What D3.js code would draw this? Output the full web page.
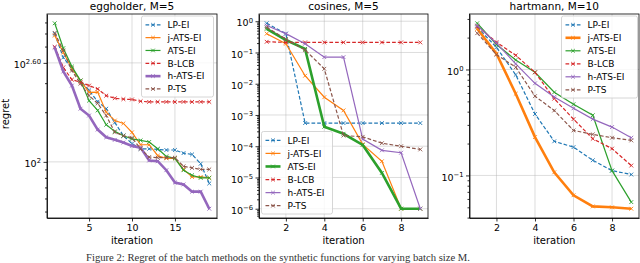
<!DOCTYPE html>
<html>
<head>
<meta charset="utf-8">
<script src="https://cdn.jsdelivr.net/npm/d3@7"></script>
<style>
  body { margin: 0; background: #fff; }
  text { font-family: "DejaVu Sans", sans-serif; }
</style>
</head>
<body>
<div id="fig"></div>
<script>
// series (same order in every panel)
const names = ['LP-EI', 'j-ATS-EI', 'ATS-EI', 'B-LCB', 'h-ATS-EI', 'P-TS'];

// eggholder, M=5
const eggIter = [1, 2, 3, 4, 5, 6, 7, 8, 9, 10, 11, 12, 13, 14, 15, 16, 17, 18, 19];
const eggLP = [597, 429, 368, 311, 271, 232, 210, 173, 144, 129, 120, 120, 119, 118, 118, 113, 111, 97.5, 74];
const eggJATS = [583, 460, 368, 311, 264, 265, 200, 178, 171, 151, 127, 127, 109, 105, 105, 90, 81, 81, 80];
const eggATS = [692, 489, 378, 311, 235, 205, 168, 153, 144, 138, 135, 132, 120, 108, 105, 89, 83, 80, 80];
const eggBLCB = [498, 374, 315, 304, 290, 277, 252, 243, 240, 239, 233, 231, 231, 231, 231, 231, 231, 231, 231];
const eggHATS = [493, 353, 290, 210, 191, 157, 141, 136, 131, 125, 122, 102, 101, 89, 75, 73, 66, 66, 52];
const eggPTS = [605, 473, 357, 298, 252, 226, 191, 151, 144, 140, 120, 107, 106, 106, 106, 94, 92, 90, 90];
const eggXTicks = [5, 10, 15];
const eggYTicks = [100, Math.pow(10, 2.6)];
const eggYLabels = [['10', '2'], ['10', '2.60']];
const eggYMinor = [50, 60, 70, 80, 90, 200, 300, 500, 600, 700];

// cosines, M=5
const cosIter = [1, 2, 3, 4, 5, 6, 7, 8, 9];
const cosLP = [0.86, 0.4, 5.5e-4, 5.5e-4, 5.5e-4, 5.5e-4, 5.5e-4, 5.5e-4, 5.5e-4];
const cosJATS = [0.40, 0.19, 0.018, 3.7e-3, 1.4e-3, 1.15e-4, 3.3e-5, 1e-6, 1e-6];
const cosATS = [0.57, 0.25, 0.13, 4.2e-4, 2.5e-4, 1.1e-4, 1.4e-5, 1e-6, 1e-6];
const cosBLCB = [0.22, 0.21, 0.21, 0.21, 0.21, 0.21, 0.21, 0.21, 0.21];
const cosHATS = [0.73, 0.40, 0.19, 0.071, 0.071, 1.7e-4, 7.4e-5, 6.2e-5, 1e-6];
const cosPTS = [0.64, 0.27, 0.12, 0.030, 2.2e-4, 2e-4, 1.25e-4, 1e-4, 7.9e-5];
const cosXTicks = [2, 4, 6, 8];
const cosYTicks = [1, 1e-1, 1e-2, 1e-3, 1e-4, 1e-5, 1e-6];
const cosYLabels = [['10', '0'], ['10', '\u22121'], ['10', '\u22122'], ['10', '\u22123'], ['10', '\u22124'], ['10', '\u22125'], ['10', '\u22126']];
const cosYMinor = [];
for (let e = -7; e <= 0; e++) for (let k = 2; k <= 9; k++) cosYMinor.push(k * Math.pow(10, e));

// hartmann, M=10
const hartIter = [1, 2, 3, 4, 5, 6, 7, 8, 9];
const hartLP = [2.5, 1.62, 0.89, 0.38, 0.21, 0.185, 0.139, 0.111, 0.102];
const hartJATS = [2.42, 1.41, 0.59, 0.23, 0.107, 0.065, 0.051, 0.050, 0.0485];
const hartATS = [2.73, 1.72, 1.23, 0.94, 0.61, 0.47, 0.37, 0.111, 0.056];
const hartBLCB = [2.55, 1.81, 1.36, 0.94, 0.53, 0.34, 0.222, 0.179, 0.124];
const hartHATS = [2.6, 1.77, 1.13, 0.74, 0.55, 0.43, 0.34, 0.286, 0.227];
const hartPTS = [2.2, 1.38, 1.05, 0.56, 0.41, 0.266, 0.244, 0.227, 0.214];
const hartXTicks = [2, 4, 6, 8];
const hartYTicks = [1, 0.1];
const hartYLabels = [['10', '0'], ['10', '\u22121']];
const hartYMinor = [0.04, 0.05, 0.06, 0.07, 0.08, 0.09, 0.2, 0.3, 0.4, 0.5, 0.6, 0.7, 0.8, 0.9, 2, 3];

const caption = 'Figure 2: Regret of the batch methods on the synthetic functions for varying batch size M.';

// styles
const colors = ['#1f77b4', '#ff7f0e', '#2ca02c', '#d62728', '#9467bd', '#8c564b'];
const dashed = [true, false, false, true, false, true];

const W = 640, H = 263;
const axTop = 14, axBottom = 218;

const svg = d3.select('#fig').append('svg').attr('width', W).attr('height', H);

const panels = [
  { title: 'eggholder, M=5', iters: eggIter, values: [eggLP, eggJATS, eggATS, eggBLCB, eggHATS, eggPTS],
    thick: 4, left: 47, right: 217, xTicks: eggXTicks, yTicks: eggYTicks, yLabels: eggYLabels, yMinor: eggYMinor,
    legend: { x: 141.5, y: 16, w: 72, h: 81 }, ylabel: 'regret' },
  { title: 'cosines, M=5', iters: cosIter, values: [cosLP, cosJATS, cosATS, cosBLCB, cosHATS, cosPTS],
    thick: 2, left: 259, right: 428, xTicks: cosXTicks, yTicks: cosYTicks, yLabels: cosYLabels, yMinor: cosYMinor,
    legend: { x: 261.5, y: 131.5, w: 71, h: 82.5 } },
  { title: 'hartmann, M=10', iters: hartIter, values: [hartLP, hartJATS, hartATS, hartBLCB, hartHATS, hartPTS],
    thick: 1, left: 469.5, right: 639, xTicks: hartXTicks, yTicks: hartYTicks, yLabels: hartYLabels, yMinor: hartYMinor,
    legend: { x: 561.5, y: 16, w: 76, h: 82 } }
];

const drawPanel = (p) => {
  const g = svg.append('g');
  const xmin = d3.min(p.iters), xmax = d3.max(p.iters);
  const xm = (xmax - xmin) * 0.05;
  const x = d3.scaleLinear().domain([xmin - xm, xmax + xm]).range([p.left, p.right]);

  const all = p.values.flat();
  const lmin = Math.log10(d3.min(all)), lmax = Math.log10(d3.max(all));
  const lm = (lmax - lmin) * 0.05;
  const y = d3.scaleLog().domain([Math.pow(10, lmin - lm), Math.pow(10, lmax + lm)]).range([axBottom, axTop]);

  // grid
  g.append('g').selectAll('line').data(p.xTicks).join('line')
    .attr('x1', (d) => x(d)).attr('x2', (d) => x(d)).attr('y1', axTop).attr('y2', axBottom)
    .attr('stroke', '#b0b0b0').attr('stroke-opacity', 0.55).attr('stroke-width', 0.8);
  g.append('g').selectAll('line').data(p.yTicks).join('line')
    .attr('y1', (d) => y(d)).attr('y2', (d) => y(d)).attr('x1', p.left).attr('x2', p.right)
    .attr('stroke', '#b0b0b0').attr('stroke-opacity', 0.55).attr('stroke-width', 0.8);

  // lines
  const line = d3.line().x((d) => x(d.i)).y((d) => y(d.v));
  p.values.forEach((vals, s) => {
    const data = p.iters.map((it, j) => ({ i: it, v: vals[j] }));
    const lw = s === p.thick ? 2.6 : 1.2;
    g.append('path').datum(data).attr('d', line)
      .attr('fill', 'none').attr('stroke', colors[s]).attr('stroke-width', lw)
      .attr('stroke-dasharray', dashed[s] ? '3.7,2' : null);
    g.append('g').selectAll('path').data(data).join('path')
      .attr('d', 'M-1.9,-1.9L1.9,1.9M-1.9,1.9L1.9,-1.9')
      .attr('transform', (d) => `translate(${x(d.i)},${y(d.v)})`)
      .attr('stroke', colors[s]).attr('stroke-width', 0.9).attr('fill', 'none');
  });

  // axes
  const ax = g.append('g').attr('transform', `translate(0,${axBottom})`)
    .call(d3.axisBottom(x).tickValues(p.xTicks).tickSize(3.5).tickSizeOuter(0).tickPadding(2.5));
  ax.selectAll('text').attr('font-size', 9.5).attr('fill', '#000');

  const dom = y.domain();
  const minor = p.yMinor.filter((v) => v >= dom[0] && v <= dom[1]);
  g.append('g').attr('transform', `translate(${p.left},0)`)
    .call(d3.axisLeft(y).tickValues(minor).tickSize(2).tickSizeOuter(0).tickFormat(''))
    .select('.domain').remove();

  const ay = g.append('g').attr('transform', `translate(${p.left},0)`)
    .call(d3.axisLeft(y).tickValues(p.yTicks).tickSize(3.5).tickSizeOuter(0).tickPadding(2.5).tickFormat(''));
  ay.selectAll('.tick text').each(function (d, i) {
    const t = d3.select(this).attr('font-size', 9.5).attr('fill', '#000').attr('dy', '0.5em');
    t.text(p.yLabels[i][0]);
    t.append('tspan').attr('dy', '-0.55em').attr('font-size', 6.8).text(p.yLabels[i][1]);
  });
  g.selectAll('.domain').attr('stroke', '#000').attr('stroke-width', 0.8);
  g.selectAll('.tick line').attr('stroke', '#000').attr('stroke-width', 0.8);

  // frame
  g.append('rect').attr('x', p.left).attr('y', axTop).attr('width', p.right - p.left).attr('height', axBottom - axTop)
    .attr('fill', 'none').attr('stroke', '#000').attr('stroke-width', 0.8);

  // labels
  g.append('text').attr('x', (p.left + p.right) / 2).attr('y', 9.5).attr('text-anchor', 'middle')
    .attr('font-size', 10.5).text(p.title);
  g.append('text').attr('x', (p.left + p.right) / 2).attr('y', 244).attr('text-anchor', 'middle')
    .attr('font-size', 10).text('iteration');
  if (p.ylabel) {
    g.append('text').attr('transform', 'translate(8.5,114) rotate(-90)').attr('text-anchor', 'middle')
      .attr('font-size', 10).text(p.ylabel);
  }

  // legend
  const L = p.legend;
  const lg = g.append('g');
  lg.append('rect').attr('x', L.x).attr('y', L.y).attr('width', L.w).attr('height', L.h).attr('rx', 2)
    .attr('fill', '#fff').attr('fill-opacity', 0.8).attr('stroke', '#cccccc').attr('stroke-width', 0.8);
  const step = (L.h - 4) / 6;
  names.forEach((n, s) => {
    const yy = L.y + 8.8 + s * step;
    const lw = s === p.thick ? 2.6 : 1.2;
    lg.append('line').attr('x1', L.x + 4).attr('x2', L.x + 19).attr('y1', yy).attr('y2', yy)
      .attr('stroke', colors[s]).attr('stroke-width', lw).attr('stroke-dasharray', dashed[s] ? '3.7,2' : null);
    lg.append('path').attr('d', 'M-1.8,-1.8L1.8,1.8M-1.8,1.8L1.8,-1.8')
      .attr('transform', `translate(${L.x + 11.5},${yy})`).attr('stroke', colors[s]).attr('stroke-width', 0.9);
    lg.append('text').attr('x', L.x + 26).attr('y', yy + 3.3).attr('font-size', 9).text(n);
  });
};

panels.forEach(drawPanel);

svg.append('text').attr('x', 86).attr('y', 261).style('font-family', '"Liberation Serif", serif')
  .attr('font-size', 10).attr('fill', '#333').attr('textLength', 384).attr('lengthAdjust', 'spacingAndGlyphs')
  .text(caption);
</script>
</body>
</html>
